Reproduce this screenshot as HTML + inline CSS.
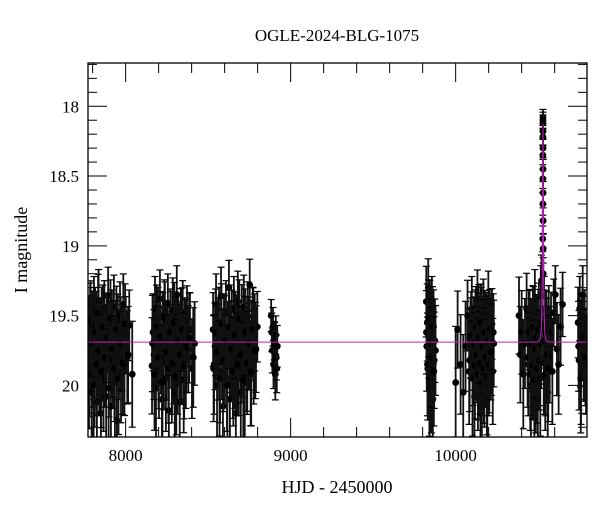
<!DOCTYPE html>
<html><head><meta charset="utf-8"><style>
html,body{margin:0;padding:0;background:#fff;}
svg{display:block;font-family:"Liberation Serif",serif;}
</style></head><body>
<svg id="chart" width="600" height="512" viewBox="0 0 600 512" xmlns="http://www.w3.org/2000/svg">
<text x="337" y="41" font-size="17" text-anchor="middle">OGLE-2024-BLG-1075</text>
<text x="337" y="493" font-size="18" text-anchor="middle">HJD - 2450000</text>
<text x="0" y="0" font-size="18" text-anchor="middle" transform="translate(27,250) rotate(-90)">I magnitude</text>
<g id="ticks"></g>
<defs><clipPath id="clip"><rect x="88" y="63" width="499" height="374"/></clipPath></defs>
<g id="data" clip-path="url(#clip)"></g>
<g id="model" clip-path="url(#clip)"></g>
<rect x="88" y="63" width="499" height="374" fill="none" stroke="#000" stroke-width="1.3"/>
</svg>
<script>
const times = [
7776,7781,7785,7790,7794,7799,7803,7808,7812,7817,7822,7826,7831,7836,7840,7845,7850,7855,7860,7866,7871,7877,7882,7888,7894,7899,7905,7911,7917,7923,7929,7935,7941,7947,7953,7960,7966,7972,7979,7986,7993,8001,8010,8022,8040,
7778,7788,7797,7806,7815,7824,7833,7842,7852,7862,7874,7885,7897,7908,7920,7932,7944,7957,7970,7983,7997,8015,
8160,8166,8172,8178,8184,8190,8196,8202,8208,8214,8220,8226,8232,8238,8244,8250,8256,8262,8268,8274,8280,8286,8292,8298,8304,8310,8316,8322,8328,8334,8340,8346,8352,8358,8365,8372,8380,8390,8402,8418,
8163,8175,8187,8199,8211,8223,8235,8247,8259,8271,8283,8295,8307,8319,8331,8343,8355,8368,8385,8410,
8530,8536,8542,8548,8554,8560,8566,8572,8578,8584,8590,8596,8602,8608,8614,8620,8626,8632,8638,8644,8650,8656,8662,8668,8674,8680,8686,8692,8698,8704,8710,8716,8722,8728,8734,8740,8746,8752,8758,8764,8770,8776,8782,8790,8798,
8533,8545,8557,8569,8581,8593,8605,8617,8629,8641,8653,8665,8677,8689,8701,8713,8725,8737,8749,8761,8773,8786,
8882,8886,8889,8893,8896,8900,8903,8907,8910,8913,8916,8919,
9822,9825,9828,9831,9834,9838,9841,9844,9847,9850,9853,9856,9859,9862,9866,9870,9874,9878,
9823,9829,9836,9842,9848,9854,9860,9868,
10000,10012,10030,10046,10060,10072,10082,10090,10098,10106,10114,10120,10126,10132,10138,10144,10150,10156,10162,10168,10174,10180,10186,10192,10198,10204,10210,10216,10220,10225,10228,10231,10140,10160,10180,
10085,10094,10102,10110,10117,10123,10129,10135,10141,10147,10153,10159,10165,10171,10177,10183,10189,10195,10201,10207,10213,
10384,10392,10400,10410,10420,10430,10440,10448,10456,10462,10468,10474,10480,10486,10492,10498,10504,10510,10516,10520,10536,10540,10546,10552,10558,10564,10570,10578,10586,10594,10604,10614,10624,10636,10648,
10436,10444,10452,10459,10465,10471,10477,10483,10489,10495,10501,10507,10513,10518,10523,10534,10538,10543,10549,10555,10561,
10527.8,10528.1,10528.3,10528.5,10528.7,10528.9,10529.0,10529.1,10529.3,10529.5,10529.7,10529.9,10530.2,10530.5,10531,
10742,10748,10752,10756,10760,10765,10770,10776,10782,10790,10745,10758,10772,10786
];
const mags = [
19.65,19.88,19.52,19.74,20.05,19.60,19.81,19.45,19.93,19.70,19.58,20.12,19.76,19.40,19.85,19.66,20.20,19.55,19.79,19.95,19.48,19.72,20.08,19.63,19.36,19.87,19.70,20.15,19.57,19.82,19.44,19.98,19.68,20.25,19.61,19.78,19.50,19.90,19.73,19.42,19.86,19.64,19.80,19.57,19.92,
19.92,19.55,19.70,20.00,19.62,19.85,19.48,19.75,19.90,19.58,19.80,19.66,20.02,19.52,19.74,19.88,19.60,19.95,19.70,19.84,19.56,19.78,
19.86,19.62,19.78,19.45,20.02,19.70,19.55,19.88,19.38,19.75,20.10,19.60,19.83,19.50,19.95,19.68,19.42,20.18,19.72,19.58,19.90,19.46,19.80,20.05,19.64,19.35,19.85,19.70,20.12,19.56,19.78,19.48,19.96,19.66,19.82,19.54,19.74,19.60,19.88,19.70,
19.70,19.92,19.58,19.80,19.65,19.98,19.52,19.76,19.88,19.62,19.84,19.55,19.94,19.68,19.78,19.60,19.86,19.72,19.66,19.80,
19.60,19.85,19.72,19.42,20.00,19.66,19.55,19.90,19.36,19.78,20.15,19.62,19.80,19.48,19.95,19.70,19.30,20.10,19.74,19.57,19.88,19.45,19.82,20.20,19.63,19.40,19.86,19.68,20.05,19.52,19.76,19.44,19.98,19.65,19.84,19.50,19.72,19.28,19.92,19.68,19.55,19.80,19.62,19.74,19.58,
19.88,19.62,19.76,19.95,19.56,19.82,19.68,20.00,19.58,19.74,19.90,19.64,19.85,19.52,19.78,19.96,19.62,19.84,19.70,19.90,19.60,19.75,
19.50,19.62,19.75,19.58,19.85,19.68,19.70,19.92,19.64,19.80,19.88,19.72,
19.40,19.72,19.55,19.88,19.30,19.65,20.02,19.50,19.78,19.62,19.95,19.45,19.70,20.10,19.58,19.82,19.68,19.75,
19.62,19.85,19.52,19.95,19.70,19.80,19.58,19.90,
19.98,19.60,19.85,20.05,19.72,19.50,19.90,19.66,19.45,19.80,20.08,19.58,19.74,19.38,19.88,19.65,20.15,19.55,19.78,19.48,19.92,19.70,19.60,20.02,19.40,19.84,19.66,19.75,19.56,19.90,19.62,19.70,19.52,19.86,19.68,
19.82,19.64,19.95,19.70,19.86,19.58,19.78,19.92,19.66,19.84,19.55,19.98,19.72,19.88,19.62,19.80,19.94,19.68,19.85,19.60,19.76,
19.50,19.78,19.62,19.92,19.70,19.45,19.85,19.60,20.00,19.72,19.55,19.88,19.40,19.95,19.66,20.10,19.52,19.80,19.35,19.25,19.45,19.60,19.85,19.70,20.05,19.55,19.78,19.62,19.90,19.48,19.35,19.74,19.85,19.58,19.42,
19.80,19.62,19.92,19.70,19.86,19.58,19.96,19.74,19.66,19.88,19.60,19.82,19.95,19.70,19.56,19.84,19.68,19.92,19.62,19.78,19.88,
18.95,18.70,18.52,18.35,18.22,18.12,18.08,18.10,18.18,18.30,18.45,18.62,18.82,19.02,19.20,
19.55,19.82,19.45,19.70,19.90,19.62,19.35,19.78,19.58,19.85,19.72,19.95,19.66,19.80
];
const errs = [
0.25,0.30,0.22,0.28,0.35,0.24,0.30,0.20,0.32,0.26,0.22,0.36,0.28,0.20,0.30,0.25,0.38,0.22,0.28,0.33,0.20,0.26,0.35,0.24,0.18,0.31,0.26,0.36,0.22,0.30,0.20,0.34,0.25,0.38,0.23,0.28,0.21,0.32,0.27,0.19,0.31,0.24,0.29,0.22,0.33,
0.34,0.26,0.30,0.36,0.28,0.32,0.24,0.30,0.35,0.26,0.31,0.28,0.37,0.24,0.30,0.33,0.27,0.35,0.29,0.32,0.25,0.30,
0.30,0.24,0.28,0.20,0.34,0.26,0.22,0.31,0.18,0.27,0.36,0.23,0.30,0.21,0.33,0.25,0.19,0.38,0.26,0.22,0.32,0.20,0.29,0.35,0.24,0.18,0.31,0.26,0.36,0.22,0.28,0.20,0.33,0.25,0.30,0.22,0.27,0.23,0.31,0.26,
0.30,0.35,0.26,0.32,0.28,0.36,0.24,0.30,0.34,0.27,0.32,0.25,0.36,0.28,0.31,0.26,0.33,0.29,0.28,0.31,
0.23,0.31,0.27,0.19,0.34,0.25,0.22,0.32,0.18,0.28,0.37,0.24,0.30,0.20,0.33,0.26,0.17,0.36,0.27,0.22,0.31,0.20,0.30,0.38,0.24,0.19,0.31,0.25,0.35,0.21,0.28,0.20,0.34,0.25,0.30,0.21,0.27,0.16,0.32,0.25,0.22,0.29,0.24,0.27,0.22,
0.33,0.27,0.30,0.36,0.25,0.32,0.28,0.37,0.26,0.30,0.34,0.27,0.32,0.24,0.30,0.36,0.27,0.32,0.29,0.34,0.26,0.30,
0.10,0.12,0.14,0.12,0.15,0.12,0.13,0.16,0.12,0.14,0.15,0.13,
0.22,0.28,0.24,0.32,0.18,0.26,0.36,0.22,0.30,0.25,0.34,0.20,0.27,0.38,0.23,0.30,0.26,0.28,
0.26,0.32,0.24,0.36,0.28,0.31,0.25,0.34,
0.35,0.24,0.31,0.36,0.28,0.22,0.33,0.25,0.20,0.30,0.37,0.23,0.28,0.18,0.32,0.25,0.38,0.22,0.29,0.21,0.33,0.26,0.23,0.35,0.19,0.31,0.25,0.28,0.22,0.33,0.24,0.27,0.21,0.31,0.26,
0.32,0.27,0.36,0.29,0.33,0.25,0.30,0.35,0.28,0.32,0.24,0.37,0.29,0.34,0.26,0.31,0.36,0.28,0.32,0.25,0.30,
0.24,0.30,0.26,0.34,0.28,0.22,0.32,0.25,0.36,0.28,0.23,0.32,0.20,0.34,0.26,0.37,0.22,0.30,0.18,0.16,0.20,0.24,0.32,0.28,0.36,0.23,0.30,0.25,0.33,0.21,0.18,0.29,0.31,0.24,0.20,
0.31,0.26,0.35,0.28,0.33,0.25,0.37,0.30,0.27,0.34,0.25,0.31,0.36,0.28,0.24,0.32,0.27,0.35,0.26,0.30,0.33,
0.08,0.07,0.06,0.06,0.05,0.05,0.05,0.05,0.05,0.06,0.06,0.07,0.08,0.09,0.10,
0.22,0.31,0.20,0.27,0.33,0.24,0.18,0.29,0.23,0.31,0.28,0.34,0.26,0.30
];
const xTickMajor = [8000, 9000, 10000];
const xTickLabels = ["8000", "9000", "10000"];
const yTickMajor = [18, 18.5, 19, 19.5, 20];
const yTickLabels = ["18", "18.5", "19", "19.5", "20"];
const modelParams = [10529, 0.235, 6.0, 19.69]; // t0, u0, tE, baseline

const X0=88, X1=587, Y0=63, Y1=437;
const xMin=7772, xMax=10796, yMin=17.69, yMax=20.37;
const sx = t => X0 + (t - xMin) / (xMax - xMin) * (X1 - X0);
const sy = m => Y0 + (m - yMin) / (yMax - yMin) * (Y1 - Y0);
const NS = "http://www.w3.org/2000/svg";
function mk(tag, attrs, parent){
  const e = document.createElementNS(NS, tag);
  for (const k in attrs) e.setAttribute(k, attrs[k]);
  parent.appendChild(e);
  return e;
}
const ticks = document.getElementById('ticks');
for (let v = 7800; v <= 10800; v += 200) {
  const x = sx(v);
  if (x < X0 || x > X1) continue;
  const major = xTickMajor.includes(v);
  const L = major ? 19 : 10;
  const t1 = mk('line', {x1:x, x2:x, y1:Y1, y2:Y1-L, stroke:'#000', 'stroke-width':1}, ticks);
  
  
  const t2 = mk('line', {x1:x, x2:x, y1:Y0, y2:Y0+L, stroke:'#000', 'stroke-width':1}, ticks);
  
  
}
xTickMajor.forEach((v, i) => {
  const tx = mk('text', {x:sx(v), y:461, 'font-size':17, 'text-anchor':'middle'}, ticks);
  tx.textContent = xTickLabels[i];
  
  
});
for (let k = 177; k <= 203; k++) {
  const v = k / 10;
  const y = sy(v);
  if (y < Y0 || y > Y1) continue;
  const major = (k % 5 === 0);
  const L = major ? 19 : 9;
  const t1 = mk('line', {x1:X0, x2:X0+L, y1:y, y2:y, stroke:'#000', 'stroke-width':1}, ticks);
  
  
  const t2 = mk('line', {x1:X1, x2:X1-L, y1:y, y2:y, stroke:'#000', 'stroke-width':1}, ticks);
  
  
}
yTickMajor.forEach((v, i) => {
  const tx = mk('text', {x:79, y:sy(v)+6, 'font-size':17, 'text-anchor':'end'}, ticks);
  tx.textContent = yTickLabels[i];
  
  
});
const dg = document.getElementById('data');
times.forEach((t, i) => {
  const x = sx(t), y = sy(mags[i]);
  const e = errs[i] * 1.15;
  const ya = sy(mags[i] - e), yb = sy(mags[i] + e);
  const g = mk('g', {}, dg);
  
  
  mk('line', {x1:x, x2:x, y1:ya, y2:yb, stroke:'#111', 'stroke-width':1.8}, g);
  mk('line', {x1:x-3.5, x2:x+3.5, y1:ya, y2:ya, stroke:'#000', 'stroke-width':1.2}, g);
  mk('line', {x1:x-3.5, x2:x+3.5, y1:yb, y2:yb, stroke:'#000', 'stroke-width':1.2}, g);
  mk('circle', {cx:x, cy:y, r:3.4, fill:'#000'}, g);
});
const [t0, u0, tE, base] = modelParams;
let d = '';
for (let px = X0; px <= X1; px += 0.25) {
  const t = xMin + (px - X0) / (X1 - X0) * (xMax - xMin);
  const u = Math.sqrt(u0*u0 + ((t - t0)/tE)**2);
  const A = (u*u + 2) / (u * Math.sqrt(u*u + 4));
  const m = base - 2.5 * Math.log10(A);
  d += (d ? 'L' : 'M') + px.toFixed(2) + ',' + sy(m).toFixed(2);
}
const mp = mk('path', {d:d, fill:'none', stroke:'#c020c0', 'stroke-width':1}, document.getElementById('model'));


</script>
</body></html>
